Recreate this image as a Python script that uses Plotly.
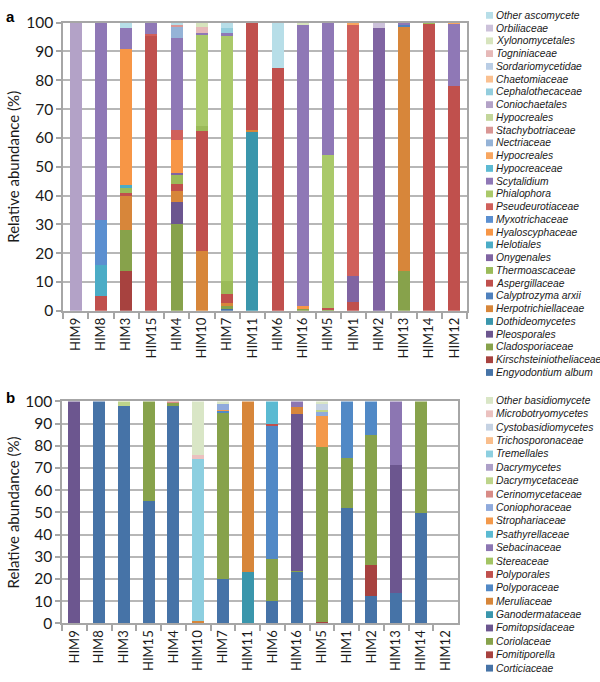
import plotly.graph_objects as go

samples = ["HIM9", "HIM8", "HIM3", "HIM15", "HIM4", "HIM10", "HIM7", "HIM11",
           "HIM6", "HIM16", "HIM5", "HIM1", "HIM2", "HIM13", "HIM14", "HIM12"]
y_ticks = [0, 10, 20, 30, 40, 50, 60, 70, 80, 90, 100]

# ---------------- Panel a (ascomycetes), bottom of stack first ----------------
#                 HIM9 HIM8 HIM3 HIM15 HIM4 HIM10 HIM7 HIM11 HIM6 HIM16 HIM5 HIM1 HIM2 HIM13 HIM14 HIM12
a_engyodontium  = [0, 0, 0, 0, 0, 0, 0.6, 0, 0, 0, 0, 0, 0, 0, 0, 0]
a_kirschstein   = [0, 0, 13.8, 0, 0, 0, 0, 0, 0, 0, 0, 0, 0, 0, 0, 0]
a_cladospor     = [0, 0, 14.2, 0, 30.3, 0, 1.4, 0, 0, 0.6, 0.6, 0, 0, 13.9, 0, 0]
a_pleospor      = [0, 0, 0, 0, 7.6, 0, 0, 0, 0, 0, 0, 0, 0, 0, 0, 0]
a_dothideo      = [0, 0, 0, 0, 0, 0, 0, 62.5, 0, 0, 0, 0, 0, 0, 0, 0]
a_herpotrich    = [0, 0, 11.9, 0, 3.7, 20.9, 0.6, 0.4, 0, 0, 0, 0, 0, 84.7, 0, 0]
a_calyptrozyma  = [0, 0, 0, 0, 0, 0, 0, 0, 0, 0, 0, 0, 0, 0.7, 0, 0]
a_aspergill     = [0, 5.1, 1.1, 95.5, 2.4, 41.5, 3.2, 37.1, 84.2, 0, 0.4, 3.0, 0, 0, 99.7, 78.0]
a_thermoasc     = [0, 0, 2.0, 0, 3.1, 1.7, 4.4, 0, 0, 0, 0, 0, 0, 0, 0.3, 0]
a_onygen        = [0, 0, 0, 0, 0.7, 0, 0, 0, 0, 0, 0, 9.1, 98.3, 0, 0, 0]
a_helotiales    = [0, 10.7, 0.5, 0, 0, 0, 0, 0, 0, 0, 0, 0, 0, 0, 0, 0]
a_hyaloscyph    = [0, 0, 47.3, 0, 11.5, 0, 0, 0, 0, 1.2, 0, 0, 0, 0, 0, 0]
a_myxotrich     = [0, 15.6, 0, 0, 0, 0, 0, 0, 0, 0, 0, 0, 0, 0, 0, 0]
a_pseudeurot    = [0, 0, 0, 0.7, 3.4, 0, 0, 0, 0, 0, 0, 87.3, 0, 0, 0, 0]
a_phialophora   = [0, 0, 0, 0, 0, 31.6, 85.3, 0, 0, 0, 53.0, 0, 0, 0, 0, 0]
a_scytalidium   = [0, 68.6, 7.2, 3.8, 32.0, 0.7, 1.0, 0, 0, 97.3, 46.0, 0, 0, 0.7, 0, 21.7]
a_hypocreaceae  = [0] * 16
a_hypocreales1  = [0, 0, 0, 0, 0, 0, 0, 0, 0, 0, 0, 0.6, 0, 0, 0, 0.3]
a_nectriaceae   = [0, 0, 0, 0, 4.2, 0, 0, 0, 0, 0, 0, 0, 0, 0, 0, 0]
a_stachybot     = [0, 0, 0, 0, 0.5, 0, 0, 0, 0, 0, 0, 0, 0, 0, 0, 0]
a_hypocreales2  = [0] * 16
a_coniochaet    = [100, 0, 0, 0, 0, 0, 0, 0, 0, 0, 0, 0, 0, 0, 0, 0]
a_cephalothec   = [0, 0, 0, 0, 0, 0, 1.8, 0, 0, 0, 0, 0, 0, 0, 0, 0]
a_chaetomiac    = [0] * 16
a_sordariomyc   = [0] * 16
a_togniniac     = [0, 0, 0, 0, 0, 2.0, 0, 0, 0, 0, 0, 0, 0, 0, 0, 0]
a_xylonomyc     = [0, 0, 0, 0, 0, 1.6, 0, 0, 0, 0.9, 0, 0, 0, 0, 0, 0]
a_orbiliac      = [0, 0, 0, 0, 0, 0, 0, 0, 0, 0, 0, 0, 1.7, 0, 0, 0]
a_other_asco    = [0, 0, 2.0, 0, 0.6, 0, 1.7, 0, 15.8, 0, 0, 0, 0, 0, 0, 0]

a_names = ["Engyodontium album", "Kirschsteiniotheliaceae", "Cladosporiaceae", "Pleosporales",
           "Dothideomycetes", "Herpotrichiellaceae", "Calyptrozyma arxii", "Aspergillaceae",
           "Thermoascaceae", "Onygenales", "Helotiales", "Hyaloscyphaceae", "Myxotrichaceae",
           "Pseudeurotiaceae", "Phialophora", "Scytalidium", "Hypocreaceae", "Hypocreales",
           "Nectriaceae", "Stachybotriaceae", "Hypocreales", "Coniochaetales", "Cephalothecaceae",
           "Chaetomiaceae", "Sordariomycetidae", "Togniniaceae", "Xylonomycetales",
           "Orbiliaceae", "Other ascomycete"]
a_values = [a_engyodontium, a_kirschstein, a_cladospor, a_pleospor, a_dothideo, a_herpotrich,
            a_calyptrozyma, a_aspergill, a_thermoasc, a_onygen, a_helotiales, a_hyaloscyph,
            a_myxotrich, a_pseudeurot, a_phialophora, a_scytalidium, a_hypocreaceae,
            a_hypocreales1, a_nectriaceae, a_stachybot, a_hypocreales2, a_coniochaet,
            a_cephalothec, a_chaetomiac, a_sordariomyc, a_togniniac, a_xylonomyc,
            a_orbiliac, a_other_asco]
a_colors = ["#4673A7", "#A7423F", "#87A24B", "#6C568F", "#3A96AC", "#D7863A",
            "#4F81BD", "#C0504D", "#9BBB59", "#8064A2", "#4BACC6", "#F79646",
            "#5B8FD0", "#D0605B", "#AAC96A", "#8F78B6", "#5DBAD3", "#F8A660",
            "#95B3D7", "#D99694", "#C3D69B", "#B3A2C7", "#93CDDD", "#FAC090",
            "#B9CDE5", "#E6B9B8", "#D7E4BD", "#CCC1DA", "#B7DEE8"]

# ---------------- Panel b (basidiomycetes), bottom of stack first ----------------
#                 HIM9 HIM8 HIM3 HIM15 HIM4 HIM10 HIM7 HIM11 HIM6 HIM16 HIM5 HIM1 HIM2 HIM13 HIM14 HIM12
b_corticiac     = [0, 100, 98.1, 55.3, 98.1, 0, 20.1, 0, 10.2, 23.0, 0, 52.0, 12.4, 13.9, 49.8, 0]
b_fomitiporella = [0, 0, 0, 0, 0, 0, 0, 0, 0, 0, 0.5, 0, 13.7, 0, 0, 0]
b_coriolac      = [0, 0, 0, 44.7, 1.0, 0, 74.6, 0, 18.8, 0.4, 79.0, 22.7, 58.8, 0, 50.2, 0]
b_fomitopsid    = [100, 0, 0, 0, 0, 0, 0, 0, 0, 71.0, 0, 0, 0, 57.4, 0, 0]
b_ganoderm      = [0, 0, 0, 0, 0, 0, 0, 23.0, 0, 0, 0, 0, 0, 0, 0, 0]
b_meruliac      = [0, 0, 0, 0, 0, 1.0, 0, 77.0, 0, 3.0, 0, 0, 0, 0, 0, 0]
b_polyporac     = [0, 0, 0, 0, 0, 0, 0.8, 0, 59.9, 0, 0, 25.3, 15.1, 0, 0, 0]
b_polyporales   = [0, 0, 0, 0, 0, 0, 0, 0, 0.7, 0, 0, 0, 0, 0, 0, 0]
b_stereac       = [0] * 16
b_sebacinac     = [0, 0, 0, 0, 0, 0, 0, 0, 0, 2.6, 0, 0, 0, 28.7, 0, 0]
b_psathyrell    = [0, 0, 0, 0, 0, 0, 0, 0, 10.4, 0, 0, 0, 0, 0, 0, 0]
b_strophariac   = [0, 0, 0, 0, 0, 0, 0.7, 0, 0, 0, 13.8, 0, 0, 0, 0, 0]
b_coniophorac   = [0, 0, 0, 0, 0, 0, 2.6, 0, 0, 0, 1.9, 0, 0, 0, 0, 0]
b_cerinomyc     = [0, 0, 0, 0, 0.9, 0, 0, 0, 0, 0, 0, 0, 0, 0, 0, 0]
b_dacrymycetac  = [0, 0, 1.9, 0, 0, 0, 0, 0, 0, 0, 0.7, 0, 0, 0, 0, 0]
b_dacrymycetes  = [0] * 16
b_tremellales   = [0, 0, 0, 0, 0, 73.2, 0, 0, 0, 0, 0, 0, 0, 0, 0, 0]
b_trichosporon  = [0] * 16
b_cystobasidio  = [0, 0, 0, 0, 0, 0, 0, 0, 0, 0, 3.1, 0, 0, 0, 0, 0]
b_microbotryo   = [0, 0, 0, 0, 0, 1.8, 0, 0, 0, 0, 0, 0, 0, 0, 0, 0]
b_other_basid   = [0, 0, 0, 0, 0, 24.0, 1.2, 0, 0, 0, 1.0, 0, 0, 0, 0, 0]

b_names = ["Corticiaceae", "Fomitiporella", "Coriolaceae", "Fomitopsidaceae", "Ganodermataceae",
           "Meruliaceae", "Polyporaceae", "Polyporales", "Stereaceae", "Sebacinaceae",
           "Psathyrellaceae", "Strophariaceae", "Coniophoraceae", "Cerinomycetaceae",
           "Dacrymycetaceae", "Dacrymycetes", "Tremellales", "Trichosporonaceae",
           "Cystobasidiomycetes", "Microbotryomycetes", "Other basidiomycete"]
b_values = [b_corticiac, b_fomitiporella, b_coriolac, b_fomitopsid, b_ganoderm, b_meruliac,
            b_polyporac, b_polyporales, b_stereac, b_sebacinac, b_psathyrell, b_strophariac,
            b_coniophorac, b_cerinomyc, b_dacrymycetac, b_dacrymycetes, b_tremellales,
            b_trichosporon, b_cystobasidio, b_microbotryo, b_other_basid]
b_colors = ["#4673A7", "#A7423F", "#87A24B", "#6C568F", "#3A96AC", "#D7863A",
            "#5189C6", "#C0504D", "#A3C463", "#8C76B2", "#5BBAD2", "#F3994B",
            "#8FAADC", "#D88B86", "#BDD48A", "#ADA0C8", "#8DCFE0", "#F9BE8C",
            "#C5D2E3", "#EBC1BF", "#D9E6C6"]

FONT = "Lato, 'Open Sans', 'DejaVu Sans', sans-serif"
LEG_FONT = "'Liberation Sans', Arial, sans-serif"
W, H = 600, 682

fig = go.Figure()
for name, vals, col in zip(a_names, a_values, a_colors):
    fig.add_trace(go.Bar(x=samples, y=vals, name=name, marker_color=col,
                         marker_line_width=0, xaxis="x", yaxis="y", showlegend=False))
for name, vals, col in zip(b_names, b_values, b_colors):
    fig.add_trace(go.Bar(x=samples, y=vals, name=name, marker_color=col,
                         marker_line_width=0, xaxis="x2", yaxis="y2", showlegend=False))

def px_y(p):
    return 1 - p / H

axis_col = "#A6A6A6"
grid_col = "#B7B7B7"

def xaxis_cfg(x0, x1, anchor):
    return dict(domain=[x0 / W, x1 / W], anchor=anchor, type="category",
                categoryorder="array", categoryarray=samples,
                tickangle=-90, ticks="outside", tickson="boundaries", ticklen=6,
                tickcolor=axis_col, tickwidth=1.5, showline=True, linecolor=axis_col,
                linewidth=1.5, mirror=True, showgrid=False,
                tickfont=dict(family=FONT, size=13, color="#1a1a1a"))

def yaxis_cfg(top, bottom, anchor):
    return dict(domain=[px_y(bottom), px_y(top)], anchor=anchor, range=[0, 100],
                tickmode="array", tickvals=y_ticks, ticks="outside", ticklen=5,
                tickcolor=axis_col, tickwidth=1.5, showline=True, linecolor=axis_col,
                linewidth=1.5, mirror=True, showgrid=True, gridcolor=grid_col,
                gridwidth=1.5, zeroline=False,
                tickfont=dict(family=FONT, size=15.5, color="#1a1a1a"))

shapes = []
annotations = []

def add_legend(names, colors, y_first, step):
    n = len(names)
    for k in range(n):
        row = n - 1 - k
        yc = y_first + row * step
        shapes.append(dict(type="rect", xref="paper", yref="paper",
                           x0=486 / W, x1=493 / W, y0=px_y(yc + 3.5), y1=px_y(yc - 3.5),
                           fillcolor=colors[k], line=dict(width=0)))
        annotations.append(dict(text="<i>" + names[k] + "</i>", xref="paper", yref="paper",
                                x=494.5 / W, y=px_y(yc), xanchor="left", yanchor="middle",
                                showarrow=False, borderpad=0,
                                font=dict(family=LEG_FONT, size=10.3, color="#1a1a1a")))

add_legend(a_names, a_colors, 5.5, 13.1)
add_legend(b_names, b_colors, 401, 13.75)

for txt, yc in (("Relative abundance (%)", 161), ("Relative abundance (%)", 516)):
    annotations.append(dict(text=txt, xref="paper", yref="paper", x=13 / W, y=px_y(yc),
                            xanchor="center", yanchor="middle", textangle=-90,
                            showarrow=False, font=dict(family=FONT, size=15, color="#1a1a1a")))
for txt, yc in (("a", 7), ("b", 398)):
    annotations.append(dict(text="<b>" + txt + "</b>", xref="paper", yref="paper",
                            x=4 / W, y=px_y(yc), xanchor="left", yanchor="middle",
                            showarrow=False,
                            font=dict(family="Liberation Sans, Arial, sans-serif", size=15,
                                      color="#000000")))

fig.update_layout(
    width=W, height=H, margin=dict(l=0, r=0, t=0, b=0),
    paper_bgcolor="white", plot_bgcolor="white",
    barmode="stack", bargap=0.52, showlegend=False,
    xaxis=xaxis_cfg(63, 467, "y"), yaxis=yaxis_cfg(13, 309, "x"),
    xaxis2=xaxis_cfg(62, 458, "y2"), yaxis2=yaxis_cfg(402, 630, "x2"),
    shapes=shapes, annotations=annotations,
)

fig.write_html("out.html",
               config={"displayModeBar": False},
               post_script="document.body.style.margin='0px';"
                           "document.body.style.overflow='hidden';"
                           "document.documentElement.style.overflow='hidden';")
